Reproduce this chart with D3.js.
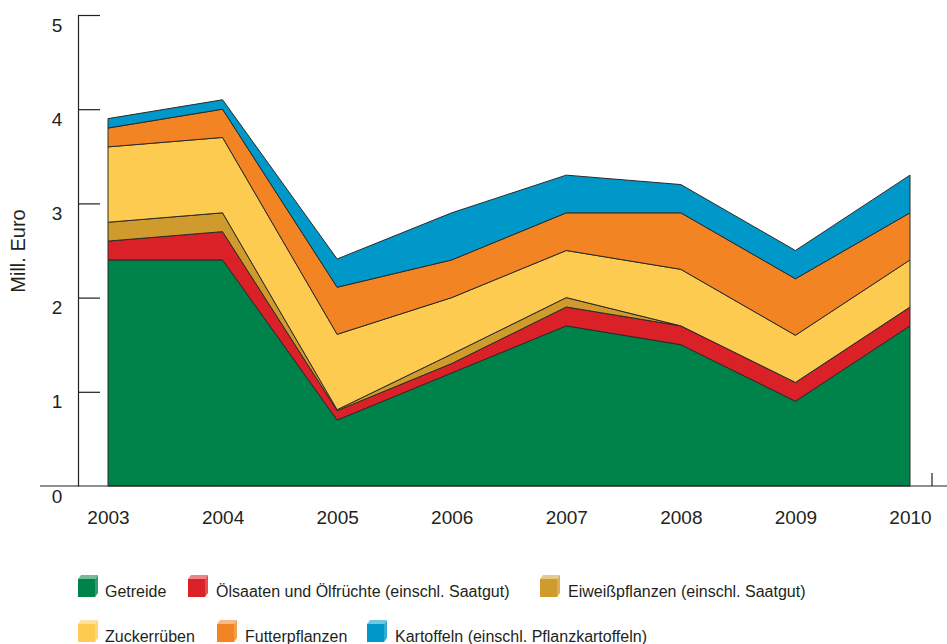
<!DOCTYPE html>
<html>
<head>
<meta charset="utf-8">
<script src="https://cdn.jsdelivr.net/npm/d3@7"></script>
<style>
  body { margin: 0; background: #fff; }
  svg { display: block; font-family: 'Liberation Sans', Arial, sans-serif; }
</style>
</head>
<body>
<div class="area-chart"></div>
<script>
const years = [2003, 2004, 2005, 2006, 2007, 2008, 2009, 2010];
const getreide = [2.4, 2.4, 0.7, 1.2, 1.7, 1.5, 0.9, 1.7];
const oelsaaten = [0.2, 0.3, 0.1, 0.1, 0.2, 0.2, 0.2, 0.2];
const eiweiss = [0.2, 0.2, 0.01, 0.1, 0.1, 0.0, 0.0, 0.0];
const zucker = [0.8, 0.8, 0.8, 0.6, 0.5, 0.6, 0.5, 0.5];
const futter = [0.2, 0.3, 0.5, 0.4, 0.4, 0.6, 0.6, 0.5];
const kartoffeln = [0.1, 0.1, 0.3, 0.5, 0.4, 0.3, 0.3, 0.4];
const yTicks = [0, 1, 2, 3, 4, 5];

const seriesNames = [
  'Getreide',
  'Ölsaaten und Ölfrüchte (einschl. Saatgut)',
  'Eiweißpflanzen (einschl. Saatgut)',
  'Zuckerrüben',
  'Futterpflanzen',
  'Kartoffeln (einschl. Pflanzkartoffeln)',
];
const seriesValues = [getreide, oelsaaten, eiweiss, zucker, futter, kartoffeln];
const colors = ['#00834a', '#da2128', '#cf9b2c', '#fdcb50', '#f28424', '#0097c9'];

function drawChart() {
  const dimensions = { width: 947, height: 644 };

  const svg = d3
    .select('.area-chart')
    .append('svg')
    .attr('width', dimensions.width)
    .attr('height', dimensions.height);

  const xScale = d3.scaleLinear().domain([2003, 2010]).range([108, 910]);
  const yScale = d3.scaleLinear().domain([0, 5]).range([486, 15]);

  // table for the stack
  const table = years.map((year, i) => {
    const row = { year };
    seriesNames.forEach((name, s) => {
      row[name] = seriesValues[s][i];
    });
    return row;
  });

  const stacked = d3.stack().keys(seriesNames)(table);

  const areaGenerator = d3
    .area()
    .x((d) => xScale(d.data.year))
    .y0((d) => yScale(d[0]))
    .y1((d) => yScale(d[1]));

  svg
    .append('g')
    .selectAll('path')
    .data(stacked)
    .join('path')
    .attr('d', areaGenerator)
    .attr('fill', (d, i) => colors[i])
    .attr('stroke', '#2b2a29')
    .attr('stroke-width', 1)
    .attr('stroke-linejoin', 'miter');

  // yAxis
  const yAxisGenerator = d3
    .axisRight(yScale)
    .tickValues(yTicks)
    .tickFormat(d3.format('d'))
    .tickSizeInner(22)
    .tickSizeOuter(0);

  const yAxis = svg
    .append('g')
    .attr('transform', 'translate(78,0)')
    .call(yAxisGenerator);

  yAxis.selectAll('path, line').attr('stroke', '#231f20').attr('stroke-width', 1.2);
  yAxis.selectAll('.tick').filter((d) => d === 0).select('line').remove();
  yAxis
    .selectAll('text')
    .attr('x', -21)
    .attr('y', 16)
    .attr('dy', 0)
    .attr('text-anchor', 'middle')
    .attr('fill', '#231f20')
    .style('font-size', '19px')
    .style('font-family', "'Liberation Sans', Arial, sans-serif");

  // baseline
  svg
    .append('line')
    .attr('x1', 40)
    .attr('x2', 947)
    .attr('y1', yScale(0))
    .attr('y2', yScale(0))
    .attr('stroke', '#231f20')
    .attr('stroke-width', 1.2);

  svg
    .append('line')
    .attr('x1', 932)
    .attr('x2', 932)
    .attr('y1', yScale(0) - 13)
    .attr('y2', yScale(0))
    .attr('stroke', '#231f20')
    .attr('stroke-width', 1.2);

  // xAxis
  const xAxisGenerator = d3
    .axisBottom(xScale)
    .tickValues(years)
    .tickFormat(d3.format('d'))
    .tickSize(0)
    .tickPadding(25);

  const xAxis = svg
    .append('g')
    .attr('transform', `translate(0,${yScale(0)})`)
    .call(xAxisGenerator);

  xAxis.select('.domain').remove();
  xAxis
    .selectAll('text')
    .attr('fill', '#231f20')
    .style('font-size', '19px')
    .style('font-family', "'Liberation Sans', Arial, sans-serif");

  // yAxisLabel
  svg
    .append('text')
    .attr('transform', 'translate(25,251) rotate(-90)')
    .attr('text-anchor', 'middle')
    .attr('fill', '#231f20')
    .style('font-size', '20px')
    .text('Mill. Euro');

  // legend
  const legendSpots = [
    [78, 575], [188, 575], [540, 575],
    [78, 620], [217, 620], [367, 620],
  ];

  const legend = svg
    .selectAll('.legend-item')
    .data(seriesNames)
    .join('g')
    .attr('class', 'legend-item')
    .attr('transform', (d, i) => `translate(${legendSpots[i][0]},${legendSpots[i][1]})`);

  legend
    .append('path')
    .attr('d', 'M0,4 L3,0 L20,0 L17,4 Z')
    .attr('fill', (d, i) => d3.interpolateRgb(colors[i], '#fff')(0.45));

  legend
    .append('path')
    .attr('d', 'M17,4 L20,0 L20,18 L17,22 Z')
    .attr('fill', (d, i) => d3.interpolateRgb(colors[i], '#fff')(0.2));

  legend
    .append('rect')
    .attr('x', 0)
    .attr('y', 4)
    .attr('width', 17)
    .attr('height', 18)
    .attr('fill', (d, i) => colors[i]);

  legend
    .append('text')
    .attr('x', (d, i) => (i === 0 || i === 3 ? 27 : 28))
    .attr('y', 22)
    .attr('fill', '#231f20')
    .style('font-size', '16px')
    .text((d) => d);
}

drawChart();
</script>
</body>
</html>
